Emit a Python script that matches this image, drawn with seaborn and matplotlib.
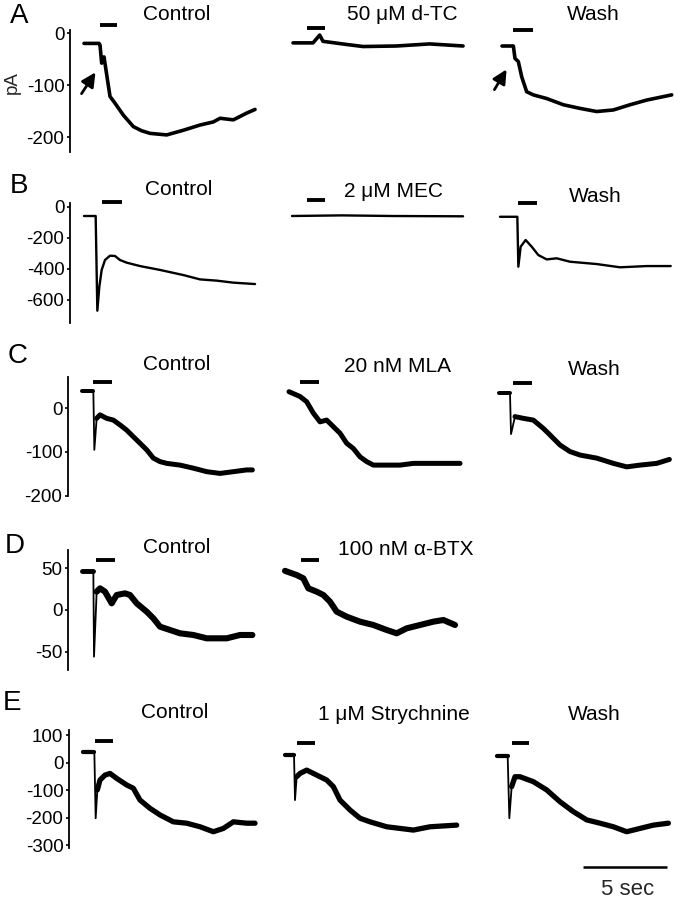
import matplotlib
matplotlib.use("Agg")
import matplotlib.pyplot as plt
import seaborn as sns

# ---------------- data (time in s, current in pA) ----------------
A_ctrl_t = [0, 0.90, 0.96, 1.06, 1.20, 1.56, 1.86, 2.36, 2.96, 3.46, 3.96, 4.96, 5.96, 6.96, 7.76, 8.16, 8.96, 9.76, 10.26]
A_ctrl_i = [-20, -20, -23, -58, -46, -122, -135, -158, -180, -188, -193, -196, -187, -177, -171, -164, -167, -154, -147]
A_dtc_t = [0, 1.2, 1.6, 1.8, 3.2, 4.2, 6.2, 8.2, 10.2]
A_dtc_i = [-19, -19, -4, -16, -22, -26, -25, -21, -25]
A_wash_t = [0, 0.68, 0.78, 0.98, 1.18, 1.48, 1.88, 2.68, 3.68, 4.68, 5.68, 6.68, 7.68, 8.68, 10.18]
A_wash_i = [-25, -25, -49, -55, -84, -113, -119, -126, -138, -145, -151, -148, -138, -129, -119]

B_ctrl_t = [0, 0.70, 0.80, 0.92, 1.06, 1.26, 1.56, 1.86, 2.16, 2.56, 3.36, 4.56, 5.96, 6.96, 7.96, 8.96, 10.26]
B_ctrl_i = [-60, -60, -671, -516, -408, -344, -316, -318, -344, -361, -383, -408, -441, -469, -477, -490, -499]
B_mec_t = [0, 3.0, 6.0, 10.26]
B_mec_i = [-60, -56, -60, -62]
B_wash_t = [0, 1.04, 1.10, 1.24, 1.54, 1.90, 2.30, 2.80, 3.40, 4.20, 5.80, 7.20, 8.80, 10.24]
B_wash_i = [-65, -65, -387, -258, -215, -258, -312, -340, -333, -355, -370, -391, -383, -383]

C_ctrl_t = [0, 0.68, 0.74, 0.88, 1.08, 1.48, 1.88, 2.28, 2.68, 3.08, 3.48, 3.88, 4.28, 4.68, 5.08, 5.88, 6.68, 7.48, 8.28, 9.08, 9.88, 10.22]
C_ctrl_i = [40, 40, -95, -23, -15, -23, -27, -38, -50, -65, -80, -95, -114, -122, -126, -130, -137, -145, -149, -145, -141, -141]
C_mla_t = [0, 0.66, 1.06, 1.46, 1.86, 2.26, 2.66, 3.06, 3.46, 3.86, 4.26, 4.66, 5.06, 5.86, 6.66, 7.46, 8.46, 10.26]
C_mla_i = [38, 27, 15, -11, -31, -27, -42, -57, -80, -92, -111, -122, -130, -130, -130, -126, -126, -126]
C_wash_t = [0, 0.66, 0.72, 0.96, 1.46, 2.06, 2.66, 3.06, 3.66, 4.26, 4.86, 5.86, 6.86, 7.66, 8.46, 9.46, 10.22]
C_wash_i = [34, 34, -59, -19, -23, -27, -46, -61, -84, -99, -107, -114, -126, -134, -130, -126, -117]

D_ctrl_t = [0, 0.68, 0.72, 0.88, 1.08, 1.38, 1.78, 2.08, 2.58, 2.88, 3.28, 3.88, 4.28, 4.68, 5.28, 5.88, 6.68, 7.48, 8.68, 9.48, 10.22]
D_ctrl_i = [47, 47, -56, 22, 26, 22, 8, 18, 20, 18, 8, -2, -10, -20, -24, -28, -30, -34, -34, -30, -30]
D_btx_t = [0, 0.70, 1.10, 1.40, 1.90, 2.30, 2.70, 3.10, 3.70, 4.50, 5.30, 6.10, 6.70, 7.30, 8.10, 8.90, 9.50, 10.20]
D_btx_i = [47, 42, 38, 26, 22, 18, 10, -2, -8, -14, -18, -24, -28, -22, -18, -14, -12, -18]

E_ctrl_t = [0, 0.68, 0.76, 0.86, 1.02, 1.32, 1.62, 2.02, 2.62, 3.02, 3.42, 4.02, 4.62, 5.42, 6.22, 7.02, 7.82, 8.42, 9.02, 9.82, 10.32]
E_ctrl_i = [40, 40, -202, -99, -63, -45, -39, -57, -81, -93, -136, -166, -190, -215, -220, -233, -251, -239, -215, -220, -220]
E_str_t = [0, 0.54, 0.60, 0.70, 0.90, 1.30, 1.90, 2.50, 2.90, 3.30, 3.90, 4.50, 5.10, 6.10, 6.90, 7.70, 8.70, 10.30]
E_str_i = [28, 28, -136, -51, -39, -27, -45, -63, -87, -136, -172, -202, -215, -233, -239, -245, -233, -227]
E_wash_t = [0, 0.64, 0.74, 0.88, 1.08, 1.38, 2.18, 2.98, 3.78, 4.58, 5.38, 6.18, 6.98, 7.78, 8.58, 9.38, 10.28]
E_wash_i = [24, 24, -202, -87, -51, -51, -69, -99, -142, -178, -208, -220, -233, -251, -239, -227, -220]

# drug application bars (on, off) in s
A_stim = [(0.96, 1.98), (0.82, 1.92), (0.66, 1.86)]
B_stim = [(1.08, 2.26), (0.88, 1.98), (1.08, 2.20)]
C_stim = [(0.64, 1.78), (0.66, 1.82), (0.84, 1.96)]
D_stim = [(0.84, 1.98), (0.94, 2.06)]
E_stim = [(0.72, 1.82), (0.74, 1.80), (0.88, 1.94)]

A_titles = ["Control", "50 \u03bcM d-TC", "Wash"]
B_titles = ["Control", "2 \u03bcM MEC", "Wash"]
C_titles = ["Control", "20 nM MLA", "Wash"]
D_titles = ["Control", "100 nM \u03b1-BTX"]
E_titles = ["Control", "1 \u03bcM Strychnine", "Wash"]

A_ticks = [0, -100, -200]
B_ticks = [0, -200, -400, -600]
C_ticks = [0, -100, -200]
D_ticks = [50, 0, -50]
E_ticks = [100, 0, -100, -200, -300]

scale_bar_sec = 5

# ---------------- layout (pixels of a 674x900 canvas) ----------------
W, H = 674, 900
PXS = 16.67  # px per second

rows = [
    dict(name="A", z=33.0, s=0.52, top=20, bot=160, spine=(5, -228), ticks=A_ticks, lw=2.6,
         starts=[84, 293, 502], traces=[(A_ctrl_t, A_ctrl_i), (A_dtc_t, A_dtc_i), (A_wash_t, A_wash_i)],
         spike=[None, None, None],
         stim=A_stim, stim_px=[25, 28, 30], titles=A_titles,
         title_pos=[(177, 20), (402, 20), (593, 20)], letter=(10, 23)),
    dict(name="B", z=206.7, s=0.155, top=195, bot=330, spine=(24, -750), ticks=B_ticks, lw=1.7,
         starts=[84, 292, 500], traces=[(B_ctrl_t, B_ctrl_i), (B_mec_t, B_mec_i), (B_wash_t, B_wash_i)],
         spike=[None, None, None],
         stim=B_stim, stim_px=[201.7, 200, 203.3], titles=B_titles,
         title_pos=[(179, 195), (394, 197), (595, 202)], letter=(10, 193)),
    dict(name="C", z=408.3, s=0.437, top=370, bot=505, spine=(72, -201), ticks=C_ticks, lw=3.6,
         starts=[82, 289, 499], traces=[(C_ctrl_t, C_ctrl_i), (C_mla_t, C_mla_i), (C_wash_t, C_wash_i)],
         spike=[2, None, 2],
         stim=C_stim, stim_px=[381.7, 381.7, 382.7], titles=C_titles,
         title_pos=[(177, 370), (397, 372), (594, 375)], letter=(8, 363)),
    dict(name="D", z=610.0, s=0.833, top=550, bot=680, spine=(72, -72), ticks=D_ticks, lw=4.4,
         starts=[82, 285], traces=[(D_ctrl_t, D_ctrl_i), (D_btx_t, D_btx_i)],
         spike=[2, None],
         stim=D_stim, stim_px=[560, 560], titles=D_titles,
         title_pos=[(177, 553), (406, 555)], letter=(5, 553)),
    dict(name="E", z=762.7, s=0.275, top=728, bot=855, spine=(119, -311), ticks=E_ticks, lw=3.8,
         starts=[83, 285, 497], traces=[(E_ctrl_t, E_ctrl_i), (E_str_t, E_str_i), (E_wash_t, E_wash_i)],
         spike=[2, 2, 2],
         stim=E_stim, stim_px=[741, 742.7, 743.3], titles=E_titles,
         title_pos=[(175, 718), (394, 720), (594, 720)], letter=(3, 710)),
]

sns.set_theme(style="white")
plt.rcParams["font.family"] = ["Liberation Sans", "DejaVu Sans"]

fig = plt.figure(figsize=(W / 100, H / 100), dpi=100)
fig.patch.set_facecolor("white")

LEFT_PAD = 14
AX_W = 190
axes_by = {}


def draw(ax, t, cur, lw):
    sns.lineplot(x=t, y=cur, ax=ax, color="black", linewidth=lw,
                 estimator=None, sort=False, legend=False)


for r in rows:
    z, s = r["z"], r["s"]
    for c, (t, cur) in enumerate(r["traces"]):
        x0 = r["starts"][c]
        ax = fig.add_axes([(x0 - LEFT_PAD) / W, 1 - r["bot"] / H, AX_W / W, (r["bot"] - r["top"]) / H])
        ax.set_facecolor("none")
        ax.set_xlim(-LEFT_PAD / PXS, (AX_W - LEFT_PAD) / PXS)
        ax.set_ylim((z - r["bot"]) / s, (z - r["top"]) / s)
        k = r["spike"][c]
        if k is None:
            draw(ax, t, cur, r["lw"])
        else:
            # noisy baseline and response drawn thick, the fast transient thin
            draw(ax, t[:k], cur[:k], r["lw"] * 0.8)
            draw(ax, t[k - 1:k + 2], cur[k - 1:k + 2], 1.3)
            draw(ax, t[k + 1:], cur[k + 1:], r["lw"])
        for ln in ax.lines:
            ln.set_solid_joinstyle("round")
            ln.set_clip_on(False)
        on, off = r["stim"][c]
        lvl = (z - r["stim_px"][c]) / s
        ax.plot([on, off], [lvl, lvl], color="black", lw=2.8, solid_capstyle="butt", clip_on=False)
        ax.set_xlabel("")
        ax.set_ylabel("")
        ax.set_xticks([])
        for sp in ["top", "right", "bottom"]:
            ax.spines[sp].set_visible(False)
        if c == 0:
            ax.spines["left"].set_visible(True)
            ax.spines["left"].set_color("black")
            ax.spines["left"].set_linewidth(1.3)
            ax.spines["left"].set_bounds(r["spine"][1], r["spine"][0])
            ax.set_yticks(r["ticks"])
            ax.set_yticklabels([str(v) for v in r["ticks"]])
            ax.tick_params(axis="y", direction="out", length=2.5, width=1.2, pad=1.5,
                           labelsize=13.5, colors="black", left=True)
        else:
            ax.spines["left"].set_visible(False)
            ax.set_yticks([])
        axes_by[(r["name"], c)] = ax
        tx, tb = r["title_pos"][c]
        fig.text(tx / W, 1 - tb / H, r["titles"][c], ha="center", va="baseline", fontsize=15, color="black")
    lx, lb = r["letter"]
    fig.text(lx / W, 1 - lb / H, r["name"], ha="left", va="baseline", fontsize=20, color="black")

# y label
fig.text(12 / W, 1 - 83 / H, "pA", rotation=90, ha="center", va="center", fontsize=13.5)

# arrows in row A
rA = rows[0]
for c, (tail_px, head_px) in [(0, ((80, 96), (97, 70))), (2, ((493, 92), (508, 67)))]:
    ax = axes_by[("A", c)]
    x0 = rA["starts"][c]
    tail = ((tail_px[0] - x0) / PXS, (rA["z"] - tail_px[1]) / rA["s"])
    head = ((head_px[0] - x0) / PXS, (rA["z"] - head_px[1]) / rA["s"])
    ax.annotate("", xy=head, xytext=tail,
                arrowprops=dict(arrowstyle="-|>,head_length=0.7,head_width=0.35", color="black", lw=2.0),
                annotation_clip=False)

# scale bar (5 s) under row E, column 3
rE = rows[4]
axs = axes_by[("E", 2)]
sb_start = (583.3 - rE["starts"][2]) / PXS
sb_y = (rE["z"] - 867) / rE["s"]
axs.plot([sb_start, sb_start + scale_bar_sec], [sb_y, sb_y], color="black", lw=1.8,
         solid_capstyle="butt", clip_on=False)
fig.text(628 / W, 1 - 895 / H, f"{scale_bar_sec} sec", ha="center", va="baseline", fontsize=16)

fig.savefig("out.png", dpi=100, facecolor="white")
